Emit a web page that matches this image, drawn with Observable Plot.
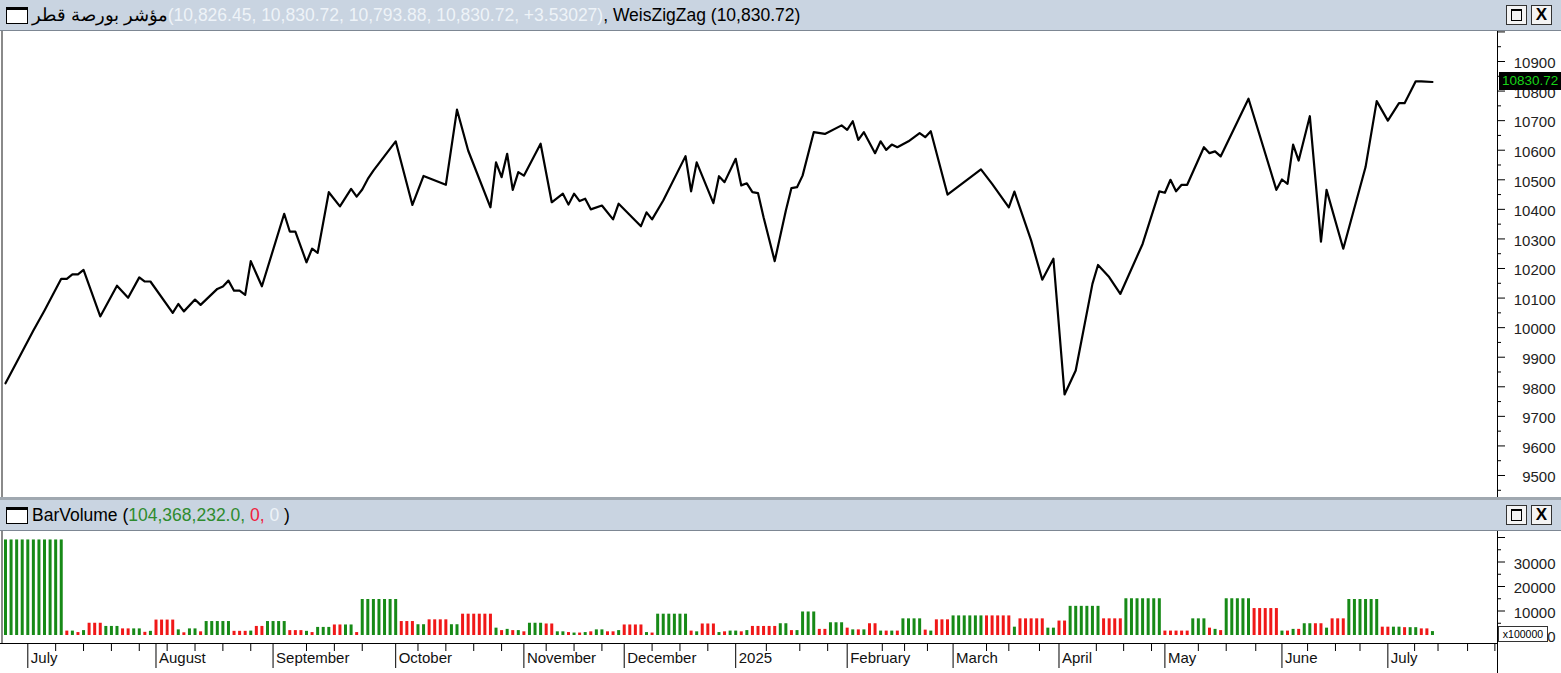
<!DOCTYPE html>
<html><head><meta charset="utf-8">
<script src="https://cdn.jsdelivr.net/npm/d3@7"></script>
<script src="https://cdn.jsdelivr.net/npm/@observablehq/plot@0.6"></script>
<style>
html,body{margin:0;padding:0}
body{width:1561px;height:673px;overflow:hidden;background:#fff;position:relative;font-family:"Liberation Sans",Arial,sans-serif}
.tbar{position:absolute;left:0;width:1561px;height:31px;background:#c9d4e1;border-bottom:1px solid #7d8793;box-sizing:border-box;font-size:17.5px;line-height:30px;white-space:nowrap;color:#000}
.ticon{position:absolute;left:6px;top:7px;width:22px;height:17px;border:1px solid #000;border-top:3px solid #000;background:#fff;box-sizing:border-box}
.ttext{position:absolute;left:32px;top:0}
.btn{position:absolute;top:5px;width:21px;height:20px;border:1px solid #333;background:#f4f4f4;box-sizing:border-box}
.btn.max{left:1506px}
.btn.max::after{content:"";position:absolute;left:4px;top:3px;width:11px;height:12px;border:1px solid #000;border-top:2px solid #000;box-sizing:border-box}
.btn.cls{left:1531px;font-weight:bold;font-size:17px;line-height:18px;text-align:center}
.plot{position:absolute;left:0}
.sep{position:absolute;left:0;top:497px;width:1561px;height:3px;background:#a0a8b0}
#tag{position:absolute;left:1499px;width:62px;height:18px;background:#000;color:#18d418;font-size:13.5px;line-height:18px;text-align:left;padding-left:3px;box-sizing:border-box}
#xbox{position:absolute;left:1498px;top:626px;width:50px;height:16px;border:1px solid #333;background:#fff;font-size:10.5px;line-height:14px;text-align:center;box-sizing:border-box}
.lborder{position:absolute;left:1px;width:2px;background:#8a8a8a}
</style></head>
<body>
<div class="tbar" style="top:0"><div class="ticon"></div>
<div class="ttext"><span dir="rtl" style="unicode-bidi:isolate">مؤشر بورصة قطر</span><span style="color:#eef3f8">(10,826.45, 10,830.72, 10,793.88, 10,830.72, +3.53027)</span>, WeisZigZag (10,830.72)</div>
<div class="btn max"></div><div class="btn cls">X</div></div>
<div id="price" class="plot" style="top:31px"></div>
<div class="sep"></div>
<div class="tbar" style="top:500px"><div class="ticon"></div>
<div class="ttext">BarVolume (<span style="color:#2e8b2e">104,368,232.0, </span><span style="color:#f0203c">0, </span><span style="color:#eef3f8">0</span> )</div>
<div class="btn max"></div><div class="btn cls">X</div></div>
<div id="vol" class="plot" style="top:531px"></div>
<div class="lborder" style="top:31px;height:466px"></div>
<div class="lborder" style="top:531px;height:112px"></div>
<script>
// ---- Weis ZigZag vertices (bar index, index level) ----
const zigBar = [0,2,5,7,10,11,12,13,14,17,20,22,24,25,26,30,31,32,34,35,38,39,40,41,42,43,44,46,50,51,52,54,55,56,58,60,62,63,64,65,66,70,73,75,79,81,83,87,88,89,90,91,92,93,96,98,100,101,102,103,104,105,107,109,110,114,115,116,118,122,123,124,127,128,129,131,132,133,134,135,136,138,140,141,142,143,145,147,150,151,152,153,154,156,157,158,159,160,162,164,165,166,169,175,177,180,181,184,186,188,190,192,195,196,198,200,204,207,208,209,210,211,212,215,216,217,218,223,228,229,230,231,232,234,236,237,240,244,246,248,250,251,253,254,256];
const zigValue = [9812,9883,9990,10058,10165,10165,10180,10180,10195,10038,10142,10101,10170,10156,10156,10050,10080,10055,10095,10077,10131,10139,10159,10125,10125,10111,10225,10140,10385,10325,10325,10221,10267,10253,10458,10410,10469,10443,10467,10503,10531,10630,10415,10513,10483,10737,10599,10407,10559,10509,10588,10466,10526,10514,10622,10424,10453,10416,10453,10428,10436,10400,10413,10366,10419,10343,10390,10366,10430,10580,10461,10559,10421,10512,10492,10571,10481,10488,10458,10455,10373,10225,10396,10472,10475,10514,10661,10655,10684,10669,10698,10635,10661,10590,10630,10601,10619,10610,10630,10658,10644,10664,10450,10535,10486,10407,10460,10295,10162,10233,9774,9855,10148,10212,10171,10114,10283,10461,10456,10500,10461,10483,10483,10610,10590,10596,10579,10774,10466,10501,10486,10619,10565,10715,10291,10466,10267,10543,10766,10700,10759,10759,10833,10833,10830.72];
const lastValue = 10830.72;

// ---- Bar volume runs (first bar, last bar, wave volume x100000, up=1/down=0) ----
const runFirst = [0,11,12,13,14,15,18,21,23,25,26,27,31,32,33,35,36,41,44,45,47,51,54,55,56,59,61,63,64,71,74,76,80,82,88,89,90,91,92,93,94,97,99,101,102,103,104,105,106,108,110,111,115,116,117,123,124,125,128,129,130,132,133,134,139,141,142,143,146,148,151,152,153,154,155,157,158,159,160,161,165,166,167,170,176,181,182,187,189,191,197,201,208,213,216,217,218,219,224,229,230,231,232,233,235,237,238,241,247,249,251,252,254,256];
const runLast  = [10,11,12,13,14,17,20,22,24,25,26,30,31,32,34,35,40,43,44,46,50,53,54,55,58,60,62,63,70,73,75,79,81,87,88,89,90,91,92,93,96,98,100,101,102,103,104,105,107,109,110,114,115,116,122,123,124,127,128,129,131,132,133,138,140,141,142,145,147,150,151,152,153,154,156,157,158,159,160,164,165,166,169,175,180,181,186,188,190,196,200,207,212,215,216,217,218,223,228,229,230,231,232,234,236,237,240,246,248,250,251,253,255,256];
const runVolume = [39000,1800,1800,1200,2000,5000,3700,2700,2700,1300,1700,6300,2300,1100,2700,1500,5700,1700,1800,3700,5700,2000,1700,1200,3300,4300,4300,1200,14700,5700,4400,6400,4400,8700,3000,2000,2500,2000,2000,1500,5000,4700,1500,1200,1000,1000,1200,1500,2300,1500,2000,4300,1200,1000,8700,1800,1500,4700,1200,1500,1800,1500,2000,3700,4800,2000,2000,9600,2500,5200,3000,2300,2300,2300,4800,1800,1800,1800,1800,6800,2200,1800,6400,8000,8000,3400,6800,3000,5900,11900,6800,15000,1800,6800,3000,2500,2000,15000,11000,1800,1800,2500,2500,4800,4800,3000,6800,14700,3400,3400,3200,3200,2700,1600];
const runUp = [1,0,1,0,1,0,1,0,1,0,1,0,1,0,1,0,1,0,1,0,1,0,1,0,1,0,1,0,1,0,1,0,1,0,1,0,1,0,1,0,1,0,1,0,1,0,1,0,1,0,1,0,1,0,1,0,1,0,1,0,1,0,1,0,1,0,1,1,0,1,0,1,0,1,0,1,0,1,0,1,0,1,0,1,0,1,0,1,0,1,0,1,0,1,0,1,0,1,0,1,0,1,0,1,0,1,0,1,0,1,0,1,0,1];

// ---- axis ticks ----
const priceTickValues = [9500,9600,9700,9800,9900,10000,10100,10200,10300,10400,10500,10600,10700,10800,10900,11000];
const priceTickLabels = ["9500","9600","9700","9800","9900","10000","10100","10200","10300","10400","10500","10600","10700","10800","10900",""];
const priceMinorTicks = [9450,9550,9650,9750,9850,9950,10050,10150,10250,10350,10450,10550,10650,10750,10850,10950];
const volTickValues = [0,10000,20000,30000,40000];
const volTickLabels = ["0","10000","20000","30000",""];
const volMinorTicks = [5000,15000,25000,35000];
const monthBars = [4,27,48,70,93,111,131,151,170,189,208,229,248];
const monthLabels = ["July","August","September","October","November","December","2025","February","March","April","May","June","July"];
const weekBars = [9,14,19,24,29,34,39,44,54,59,64,74,79,84,89,97,102,107,116,121,126,136.5,142.5,147.5,157.3,161.3,165.4,176,180,185.5,195.7,200.6,205.6,214,219,224.3,233.6,238.6,243,252.8,257,262.3,267.2];

const W = 1561, LEFT = 3, RIGHT = 64;
const xDomain = [-0.359, 267.67];
const pxPerBar = (W - LEFT - RIGHT) / (xDomain[1] - xDomain[0]);
const priceDomain = [9425.6, 11001.45], PRICE_H = 466;
const volDomain = [-3265, 42449], VOL_PLOT_H = 112;
const pxPerVol = VOL_PLOT_H / (volDomain[1] - volDomain[0]);
const font = {fontFamily: "'Liberation Sans', Arial, sans-serif", fontSize: "15px", background: "transparent", overflow: "visible"};
const GREEN = "#178a17", RED = "#f01818";

const zig = zigBar.map((b, k) => ({bar: b, value: zigValue[k]}));
const bars = [];
runFirst.forEach((f, k) => {
  for (let b = f; b <= runLast[k]; b++) bars.push({bar: b, volume: runVolume[k], up: runUp[k]});
});

// right-hand tick marks drawn as short rules just outside the frame
const rightTicks = (values, len) => Plot.ruleY(values, {y: d => d, x1: xDomain[1], x2: xDomain[1] + len / pxPerBar, stroke: "#000", strokeWidth: 1});
const bottomTicks = (values, len) => Plot.ruleX(values, {x: d => d, y1: volDomain[0], y2: volDomain[0] - len / pxPerVol, stroke: "#000", strokeWidth: 1});

const price = Plot.plot({
  width: W, height: PRICE_H, marginLeft: LEFT, marginRight: RIGHT, marginTop: 0, marginBottom: 0,
  style: font,
  x: {domain: xDomain, axis: null},
  y: {domain: priceDomain, axis: null},
  marks: [
    Plot.line(zig, {x: "bar", y: "value", stroke: "#000", strokeWidth: 2.2}),
    Plot.ruleX([xDomain[1]], {stroke: "#000", strokeWidth: 1}),
    rightTicks(priceTickValues, 8),
    rightTicks(priceMinorTicks, 4),
    Plot.text(priceTickValues, {y: d => d, text: (d, i) => priceTickLabels[i], frameAnchor: "right", dx: 58, dy: 2, textAnchor: "end", fill: "#222", fontSize: 15})
  ]
});
document.getElementById("price").appendChild(price);

const vol = Plot.plot({
  width: W, height: VOL_PLOT_H + 30, marginLeft: LEFT, marginRight: RIGHT, marginTop: 0, marginBottom: 30,
  style: font,
  x: {domain: xDomain, axis: null},
  y: {domain: volDomain, axis: null},
  marks: [
    Plot.ruleX(bars, {x: "bar", y1: 0, y2: "volume", stroke: d => d.up ? GREEN : RED, strokeWidth: 3}),
    Plot.ruleX([xDomain[1]], {y1: volDomain[0] - 30 / pxPerVol, y2: volDomain[1], stroke: "#000", strokeWidth: 1}),
    Plot.ruleY([volDomain[0]], {x1: xDomain[0] - LEFT / pxPerBar, x2: xDomain[1], stroke: "#000", strokeWidth: 1}),
    rightTicks(volTickValues, 8),
    rightTicks(volMinorTicks, 4),
    Plot.text(volTickValues, {y: d => d, text: (d, i) => volTickLabels[i], frameAnchor: "right", dx: 58, dy: 2, textAnchor: "end", fill: "#222", fontSize: 15}),
    bottomTicks(monthBars, 25),
    bottomTicks(weekBars, 8),
    Plot.text(monthBars, {x: d => d, text: (d, i) => monthLabels[i], frameAnchor: "bottom", dx: 3, dy: 19, textAnchor: "start", fill: "#111", fontSize: 15})
  ]
});
document.getElementById("vol").appendChild(vol);

// price tag at last value, positioned with the plot's y scale
const ty = price.scale("y").apply(lastValue);
const tag = document.createElement("div");
tag.id = "tag"; tag.textContent = lastValue.toFixed(2);
tag.style.top = (31 + ty - 9) + "px";
document.body.appendChild(tag);
const xb = document.createElement("div");
xb.id = "xbox"; xb.textContent = "x100000";
document.body.appendChild(xb);
</script>
</body></html>
